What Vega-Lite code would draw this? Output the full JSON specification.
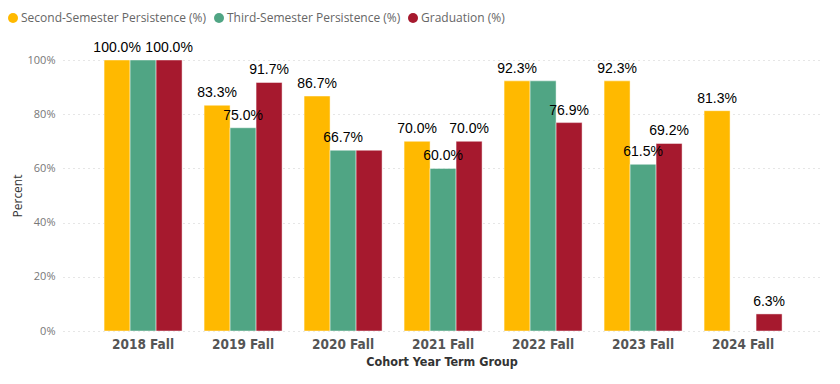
{
  "$schema": "https://vega.github.io/schema/vega-lite/v6.json",
  "autosize": "none",
  "width": 757,
  "height": 271,
  "padding": {"left": 63, "top": 60, "right": 20, "bottom": 53},
  "background": "white",
  "config": {
    "view": {"stroke": null},
    "font": "Open Sans"
  },
  "data": {
    "values": [
      {"term": "2018 Fall", "series": "Second-Semester Persistence (%)", "value": 100.0},
      {"term": "2018 Fall", "series": "Third-Semester Persistence (%)", "value": 100.0},
      {"term": "2018 Fall", "series": "Graduation (%)", "value": 100.0},
      {"term": "2019 Fall", "series": "Second-Semester Persistence (%)", "value": 83.3},
      {"term": "2019 Fall", "series": "Third-Semester Persistence (%)", "value": 75.0},
      {"term": "2019 Fall", "series": "Graduation (%)", "value": 91.7},
      {"term": "2020 Fall", "series": "Second-Semester Persistence (%)", "value": 86.7},
      {"term": "2020 Fall", "series": "Third-Semester Persistence (%)", "value": 66.7},
      {"term": "2020 Fall", "series": "Graduation (%)", "value": 66.7},
      {"term": "2021 Fall", "series": "Second-Semester Persistence (%)", "value": 70.0},
      {"term": "2021 Fall", "series": "Third-Semester Persistence (%)", "value": 60.0},
      {"term": "2021 Fall", "series": "Graduation (%)", "value": 70.0},
      {"term": "2022 Fall", "series": "Second-Semester Persistence (%)", "value": 92.3},
      {"term": "2022 Fall", "series": "Third-Semester Persistence (%)", "value": 92.3},
      {"term": "2022 Fall", "series": "Graduation (%)", "value": 76.9},
      {"term": "2023 Fall", "series": "Second-Semester Persistence (%)", "value": 92.3},
      {"term": "2023 Fall", "series": "Third-Semester Persistence (%)", "value": 61.5},
      {"term": "2023 Fall", "series": "Graduation (%)", "value": 69.2},
      {"term": "2024 Fall", "series": "Second-Semester Persistence (%)", "value": 81.3},
      {"term": "2024 Fall", "series": "Graduation (%)", "value": 6.3}
    ]
  },
  "encoding": {
    "x": {
      "field": "term",
      "type": "nominal",
      "sort": null,
      "scale": {"paddingInner": 0.22, "paddingOuter": 0.395, "align": 0.52},
      "axis": {
        "title": "Cohort Year Term Group",
        "labelAngle": 0,
        "labelFont": "DejaVu Sans Condensed, Roboto, sans-serif",
        "labelFontSize": 13.5,
        "labelFontWeight": "bold",
        "labelColor": "#555555",
        "labelPadding": 6,
        "ticks": false,
        "domain": false,
        "titleFont": "DejaVu Sans Condensed, Roboto, sans-serif",
        "titleFontSize": 12.5,
        "titleFontWeight": "bold",
        "titleColor": "#333333",
        "titlePadding": 5
      }
    },
    "xOffset": {
      "field": "series",
      "type": "nominal",
      "sort": ["Second-Semester Persistence (%)", "Third-Semester Persistence (%)", "Graduation (%)"],
      "scale": {"domain": ["Second-Semester Persistence (%)", "Third-Semester Persistence (%)", "Graduation (%)"], "paddingInner": 0, "paddingOuter": 0}
    },
    "y": {
      "field": "value",
      "type": "quantitative",
      "scale": {"domain": [0, 100], "nice": false},
      "axis": {
        "title": "Percent",
        "format": ".0f",
        "labelExpr": "datum.label + '%'",
        "values": [0, 20, 40, 60, 80, 100],
        "labelFont": "Open Sans",
        "labelFontSize": 11,
        "labelColor": "#777777",
        "labelPadding": 8,
        "ticks": false,
        "domain": false,
        "grid": true,
        "gridColor": "#cccccc",
        "gridDash": [1, 4],
        "gridWidth": 1,
        "titleFont": "Open Sans",
        "titleFontSize": 12,
        "titleFontWeight": "normal",
        "titleColor": "#333333",
        "titlePadding": 3
      }
    },
    "color": {
      "field": "series",
      "type": "nominal",
      "scale": {
        "domain": ["Second-Semester Persistence (%)", "Third-Semester Persistence (%)", "Graduation (%)"],
        "range": ["#FFB900", "#50A584", "#A6192E"]
      },
      "legend": {
        "title": null,
        "orient": "none",
        "direction": "horizontal",
        "legendX": -56,
        "legendY": -48,
        "symbolType": "circle",
        "symbolSize": 100,
        "symbolStrokeWidth": 0,
        "labelFont": "Open Sans",
        "labelFontSize": 12,
        "labelColor": "#666666",
        "labelOffset": 2,
        "columnPadding": 6,
        "labelLimit": 300
      }
    }
  },
  "layer": [
    {
      "mark": {"type": "bar", "stroke": "white", "strokeWidth": 1, "strokeOpacity": 0.45}
    },
    {
      "transform": [
        {"filter": "!((datum.term == '2018 Fall' && datum.series == 'Third-Semester Persistence (%)') || (datum.term == '2020 Fall' && datum.series == 'Graduation (%)') || (datum.term == '2022 Fall' && datum.series == 'Third-Semester Persistence (%)'))"},
        {"calculate": "format(datum.value, '.1f') + '%'", "as": "label"}
      ],
      "mark": {"type": "text", "baseline": "bottom", "dy": -5, "font": "Liberation Sans", "fontSize": 14, "color": "#000000"},
      "encoding": {
        "text": {"field": "label", "type": "nominal"},
        "color": {"value": "#000000"}
      }
    }
  ]
}
